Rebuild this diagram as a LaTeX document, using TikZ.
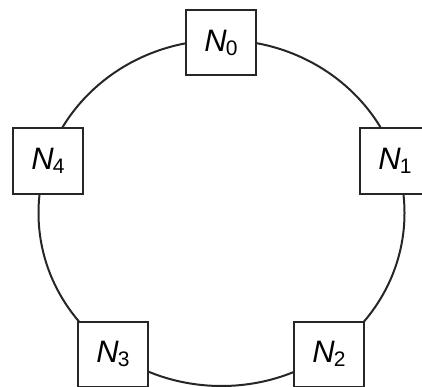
\documentclass[tikz,border=0pt]{standalone}
\usepackage{fontspec}
\setmainfont{Liberation Sans}
\tikzset{
  nodebox/.style={draw=black!85, line width=2pt, fill=white, minimum width=70pt, minimum height=65pt, inner sep=0pt, font=\fontsize{31}{31}\selectfont},
  ring/.style={draw=black!85, line width=2pt}
}
\newcommand{\nlabel}[1]{\textit{N}\kern-1pt\raisebox{-4pt}{\fontsize{21}{21}\selectfont #1}}
\begin{document}
\begin{tikzpicture}[x=1pt,y=-1pt]
\useasboundingbox (0,0) rectangle (422,387);
\coordinate (c) at (221.5,213);
\draw[ring] (c) ellipse [x radius=183, y radius=173];
\node[nodebox] (n0) at (221,43) {\nlabel{0}};
\node[nodebox] (n1) at (395,161) {\nlabel{1}};
\node[nodebox] (n2) at (329,354) {\nlabel{2}};
\node[nodebox] (n3) at (113,354) {\nlabel{3}};
\node[nodebox] (n4) at (48,161) {\nlabel{4}};
\end{tikzpicture}
\end{document}
